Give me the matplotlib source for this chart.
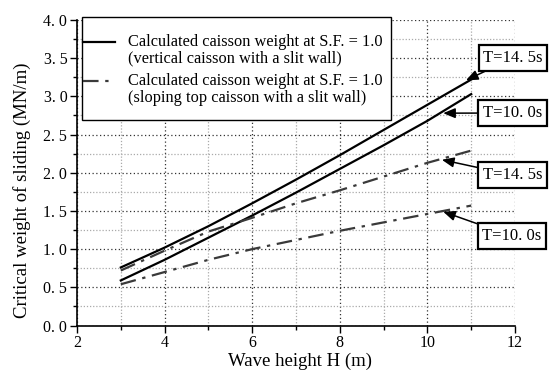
import matplotlib
matplotlib.use("Agg")
import matplotlib.pyplot as plt
from matplotlib.lines import Line2D
from matplotlib.patches import Rectangle

plt.rcParams['font.family'] = ['Liberation Serif', 'DejaVu Serif']

# ---- data ----
wave_height = [3, 4, 5, 6, 7, 8, 9, 10, 11]
vert_T145 = [0.76, 1.02, 1.30, 1.60, 1.91, 2.23, 2.56, 2.89, 3.22]
vert_T100 = [0.59, 0.86, 1.15, 1.44, 1.74, 2.05, 2.36, 2.68, 3.03]
slope_T145 = [0.72, 0.98, 1.23, 1.41, 1.60, 1.77, 1.95, 2.13, 2.29]
slope_T100 = [0.54, 0.70, 0.86, 1.00, 1.12, 1.24, 1.35, 1.46, 1.57]

xticks = [2, 4, 6, 8, 10, 12]
xticklabels = ['2', '4', '6', '8', '10', '12']
yticks = [0.0, 0.5, 1.0, 1.5, 2.0, 2.5, 3.0, 3.5, 4.0]
yticklabels = ['0. 0', '0. 5', '1. 0', '1. 5', '2. 0', '2. 5', '3. 0', '3. 5', '4. 0']

legend_lines = [
    ['Calculated caisson weight at S.F. = 1.0', '(vertical caisson with a slit wall)'],
    ['Calculated caisson weight at S.F. = 1.0', '(sloping top caisson with a slit wall)'],
]
annot_labels = ['T=14. 5s', 'T=10. 0s', 'T=14. 5s', 'T=10. 0s']
annot_tips = [(10.88, 3.21), (10.36, 2.78), (10.33, 2.17), (10.36, 1.49)]

# ---- figure ----
W, H = 549, 372
fig = plt.figure(figsize=(W / 100, H / 100), dpi=100)
L, R, T, B = 77, 515, 20, 325.5
ax = fig.add_axes([L / W, 1 - B / H, (R - L) / W, (B - T) / H])

dash_col = '#3a3a3a'
dash_ls = (0, (7, 3, 1.5, 3))
ax.plot(wave_height, vert_T145, color='black', lw=1.6, zorder=3)
ax.plot(wave_height, vert_T100, color='black', lw=1.6, zorder=3)
ax.plot(wave_height, slope_T145, color=dash_col, lw=1.6, ls=dash_ls, zorder=3)
ax.plot(wave_height, slope_T100, color=dash_col, lw=1.6, ls=dash_ls, zorder=3)

ax.set_xlim(2, 12)
ax.set_ylim(0, 4.0)
ax.set_xticks(xticks)
ax.set_xticklabels(xticklabels, fontsize=11.5)
ax.set_yticks(yticks)
ax.set_yticklabels(yticklabels, fontsize=11.5)
ax.set_xticks([3, 5, 7, 9, 11], minor=True)
ax.set_yticks([0.25, 0.75, 1.25, 1.75, 2.25, 2.75, 3.25, 3.75], minor=True)
ax.tick_params(which='major', direction='out', length=5, width=1, color='black', pad=2)
ax.tick_params(which='minor', direction='out', length=3, width=1, color='black')

ax.grid(which='major', color='#333333', lw=0.9, ls=(0, (1, 2)))
ax.grid(which='minor', color='#aaaaaa', lw=0.9, ls=(0, (1, 1.5)))
ax.set_axisbelow(True)

for s in ['top', 'right']:
    ax.spines[s].set_visible(False)
for s in ['left', 'bottom']:
    ax.spines[s].set_linewidth(1.2)

fig.text(22 / W, 1 - 190 / H, 'Critical weight of sliding (MN/m)', rotation=90,
         ha='center', va='center', fontsize=13.5)
fig.text(300 / W, 1 - 361 / H, 'Wave height H (m)', ha='center', va='center', fontsize=13.5)

# ---- manual legend (figure pixel coords, top-origin) ----
def fp(x, y):
    return (x / W, 1 - y / H)

rect = Rectangle(fp(81.7, 120), (390.7 - 81.7) / W, (120 - 17.3) / H, transform=fig.transFigure,
                 facecolor='white', edgecolor='black', lw=1.0, zorder=5)
fig.patches.append(rect)
handle_styles = [dict(color='black', ls='-'), dict(color=dash_col, ls=dash_ls)]
line_ys = [(41.7, 58.3), (80.7, 97.7)]
for sty, (ya, yb), txt in zip(handle_styles, line_ys, legend_lines):
    xa, ya_f = fp(82.7, ya)
    xb, _ = fp(115, ya)
    fig.lines.append(Line2D([xa, xb], [ya_f, ya_f], transform=fig.transFigure, lw=1.6,
                            zorder=6, **sty))
    fig.text(*fp(127.7, ya), txt[0], ha='left', va='center', fontsize=11.8, zorder=6)
    fig.text(*fp(127.7, yb), txt[1], ha='left', va='center', fontsize=11.8, zorder=6)

# ---- annotation boxes ----
box_centers = [(513, 58), (512.5, 113), (512.5, 175), (512, 236)]
for lab, tip, (cx, cy) in zip(annot_labels, annot_tips, box_centers):
    ax.annotate(lab, xy=tip, xycoords='data', xytext=(cx, H - cy), textcoords='figure pixels',
                ha='center', va='center', fontsize=12, annotation_clip=False,
                bbox=dict(boxstyle='square,pad=0.28', fc='white', ec='black', lw=1.6),
                arrowprops=dict(arrowstyle='-|>,head_length=0.6,head_width=0.25', color='black',
                                lw=1.1, shrinkA=0, shrinkB=0))

fig.savefig('out.png', dpi=100)
